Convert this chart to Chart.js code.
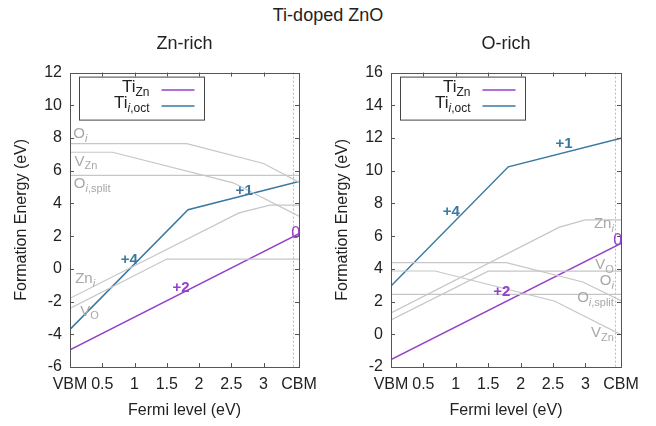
<!DOCTYPE html>
<html>
<head>
<meta charset="utf-8">
<script src="https://cdn.jsdelivr.net/npm/chart.js@4.4.0/dist/chart.umd.min.js"></script>
<style>
  body { margin: 0; background: #fff; font-family: "Liberation Sans", Arial, sans-serif; }
  #wrap { position: relative; width: 656px; height: 426px; overflow: hidden; }
  #main-title { position: absolute; left: 0; top: 5px; width: 656px; text-align: center; font-size: 18px; color: #222; }
  .panel { position: absolute; top: 0; height: 426px; }
</style>
</head>
<body>
<div id="wrap">
  <div id="main-title">Ti-doped ZnO</div>
  <div class="panel" style="left:0; width:328px"><canvas id="chartZn"></canvas></div>
  <div class="panel" style="left:321px; width:335px"><canvas id="chartO"></canvas></div>
</div>
<script>
// x axis (Fermi level, eV)
const xMax = 3.55;
const cbm = 3.46;
const xTickValues = [0, 0.5, 1, 1.5, 2, 2.5, 3, 3.55];
const xTickLabels = ['VBM', '0.5', '1', '1.5', '2', '2.5', '3', 'CBM'];

// Zn-rich series (x = Fermi level, y = formation energy)
const znTiZnX = [0, 3.55];
const znTiZnY = [-4.95, 2.15];
const znTiIX = [0, 1.83, 3.55];
const znTiIY = [-3.7, 3.62, 5.34];
const znOiX = [0, 1.81, 3.0, 3.55];
const znOiY = [7.66, 7.66, 6.44, 5.3];
const znVZnX = [0, 0.66, 2.53, 3.55];
const znVZnY = [7.13, 7.13, 5.26, 3.22];
const znOsplitX = [0, 3.55];
const znOsplitY = [5.72, 5.72];
const znZniX = [0, 2.62, 3.1, 3.55];
const znZniY = [-1.8, 3.42, 3.9, 3.9];
const znVOX = [0, 1.5, 3.55];
const znVOY = [-2.42, 0.6, 0.6];

// O-rich series
const oTiZnX = [0, 3.55];
const oTiZnY = [-1.55, 5.55];
const oTiIX = [0, 1.81, 3.55];
const oTiIY = [2.95, 10.24, 11.98];
const oOiX = [0, 1.78, 2.96, 3.55];
const oOiY = [4.38, 4.38, 3.2, 2.05];
const oVZnX = [0, 0.68, 2.53, 3.55];
const oVZnY = [3.87, 3.87, 2.02, -0.02];
const oOsplitX = [0, 3.55];
const oOsplitY = [2.44, 2.44];
const oZniX = [0, 2.6, 3.0, 3.55];
const oZniY = [1.3, 6.55, 7.0, 7.0];
const oVOX = [0, 1.5, 3.55];
const oVOY = [0.88, 3.86, 3.86];

const PURPLE = '#9440c8';
const BLUE = '#3a78a0';
const GRAY = '#c6c6c6';
const GRAY_TXT = '#a8a8a8';
const FONT = '"Liberation Sans", Arial, sans-serif';

const pts = (xs, ys) => xs.map((x, i) => ({ x: x, y: ys[i] }));

// text annotations: parts = [text, flags] with s = subscript, i = italic, b = bold
const znNotes = [
  { x: 0.05, y: 8.25, parts: [['O'], ['i', 'si']], color: GRAY_TXT, align: 'left', size: 15 },
  { x: 0.07, y: 6.56, parts: [['V'], ['Zn', 's']], color: GRAY_TXT, align: 'left', size: 15 },
  { x: 0.06, y: 5.2, parts: [['O'], ['i', 'si'], [',split', 's']], color: GRAY_TXT, align: 'left', size: 15 },
  { x: 0.08, y: -0.62, parts: [['Zn'], ['i', 'si']], color: GRAY_TXT, align: 'left', size: 15 },
  { x: 0.16, y: -2.6, parts: [['V'], ['O', 's']], color: GRAY_TXT, align: 'left', size: 15 },
  { x: 0.92, y: 0.55, parts: [['+4', 'b']], color: BLUE, align: 'center', size: 15 },
  { x: 2.7, y: 4.78, parts: [['+1', 'b']], color: BLUE, align: 'center', size: 15 },
  { x: 1.72, y: -1.16, parts: [['+2', 'b']], color: PURPLE, align: 'center', size: 15 },
  { x: 3.5, y: 2.17, parts: [['0']], color: PURPLE, align: 'center', size: 16 }
];
const oNotes = [
  { x: 3.44, y: 6.75, parts: [['Zn'], ['i', 'si']], color: GRAY_TXT, align: 'right', size: 15 },
  { x: 3.44, y: 4.24, parts: [['V'], ['O', 's']], color: GRAY_TXT, align: 'right', size: 15 },
  { x: 3.44, y: 3.26, parts: [['O'], ['i', 'si']], color: GRAY_TXT, align: 'right', size: 15 },
  { x: 3.44, y: 2.22, parts: [['O'], ['i', 'si'], [',split', 's']], color: GRAY_TXT, align: 'right', size: 15 },
  { x: 3.44, y: 0.07, parts: [['V'], ['Zn', 's']], color: GRAY_TXT, align: 'right', size: 15 },
  { x: 0.93, y: 7.49, parts: [['+4', 'b']], color: BLUE, align: 'center', size: 15 },
  { x: 2.67, y: 11.66, parts: [['+1', 'b']], color: BLUE, align: 'center', size: 15 },
  { x: 1.71, y: 2.58, parts: [['+2', 'b']], color: PURPLE, align: 'center', size: 15 },
  { x: 3.5, y: 5.71, parts: [['0']], color: PURPLE, align: 'center', size: 16 }
];

function drawRich(ctx, parts, x, y, align, size, color) {
  const items = parts.map(([t, f = '']) => {
    const sub = f.includes('s');
    const fs = sub ? Math.round(size * 0.72) : size;
    const font = (f.includes('i') ? 'italic ' : '') + (f.includes('b') ? 'bold ' : '') + fs + 'px ' + FONT;
    ctx.font = font;
    return { t, font, w: ctx.measureText(t).width, dy: sub ? size * 0.32 : 0 };
  });
  const total = items.reduce((a, m) => a + m.w, 0);
  let cx = align === 'right' ? x - total : align === 'center' ? x - total / 2 : x;
  ctx.fillStyle = color;
  ctx.textBaseline = 'middle';
  ctx.textAlign = 'left';
  items.forEach(m => { ctx.font = m.font; ctx.fillText(m.t, cx, y + m.dy); cx += m.w; });
}

const decor = {
  id: 'decor',
  beforeDatasetsDraw(chart) {
    const { ctx, chartArea: a, scales: { x } } = chart;
    const px = Math.round(x.getPixelForValue(cbm)) + 0.5;
    ctx.save();
    ctx.strokeStyle = '#bbbbbb';
    ctx.lineWidth = 1;
    ctx.setLineDash([2, 2]);
    ctx.beginPath(); ctx.moveTo(px, a.top); ctx.lineTo(px, a.bottom); ctx.stroke();
    ctx.restore();
  },
  afterDatasetsDraw(chart, args, opts) {
    const { ctx, chartArea: a, scales: { x, y } } = chart;
    ctx.save();
    // frame with inward ticks
    ctx.strokeStyle = '#555';
    ctx.lineWidth = 1;
    ctx.strokeRect(Math.round(a.left) + 0.5, Math.round(a.top) + 0.5, Math.round(a.right - a.left), Math.round(a.bottom - a.top));
    ctx.beginPath();
    xTickValues.filter(v => v > 0 && v < 3.2).forEach(v => {
      const p = Math.round(x.getPixelForValue(v)) + 0.5;
      ctx.moveTo(p, a.bottom); ctx.lineTo(p, a.bottom - 4);
      ctx.moveTo(p, a.top); ctx.lineTo(p, a.top + 4);
    });
    y.ticks.forEach(t => {
      if (t.value <= y.min || t.value >= y.max) return;
      const p = Math.round(y.getPixelForValue(t.value)) + 0.5;
      ctx.moveTo(a.left, p); ctx.lineTo(a.left + 4, p);
      ctx.moveTo(a.right, p); ctx.lineTo(a.right - 4, p);
    });
    ctx.stroke();

    // curve labels
    opts.notes.forEach(n => {
      drawRich(ctx, n.parts, x.getPixelForValue(n.x), y.getPixelForValue(n.y), n.align, n.size, n.color);
    });

    // legend box
    const bx = a.left + 9.5, by = a.top + 4.5, bw = 125, bh = 43;
    ctx.strokeStyle = '#444';
    ctx.strokeRect(bx, by, bw, bh);
    const rows = [
      { parts: [['Ti'], ['Zn', 's']], color: PURPLE },
      { parts: [['Ti'], ['i', 'si'], [',oct', 's']], color: BLUE }
    ];
    rows.forEach((r, i) => {
      const ry = by + 10 + i * 16;
      drawRich(ctx, r.parts, bx + 70, ry, 'right', 17, '#222');
      ctx.strokeStyle = r.color;
      ctx.lineWidth = 1.5;
      ctx.beginPath(); ctx.moveTo(bx + 82, ry + 3); ctx.lineTo(bx + 115, ry + 3); ctx.stroke();
    });
    ctx.restore();
  }
};

function makeChart(id, title, yMin, yMax, padRight, series, notes) {
  const datasets = series.map(s => ({
    data: pts(s.x, s.y),
    borderColor: s.color,
    borderWidth: s.width,
    pointRadius: 0,
    fill: false,
    tension: 0
  }));
  return new Chart(document.getElementById(id), {
    type: 'line',
    data: { datasets },
    plugins: [decor],
    options: {
      responsive: true,
      maintainAspectRatio: false,
      animation: false,
      layout: { padding: { top: 27, right: padRight, bottom: 4, left: 0 } },
      plugins: {
        legend: { display: false },
        tooltip: { enabled: false },
        title: {
          display: true, text: title, fullSize: false, color: '#222',
          font: { size: 18, family: FONT, weight: 'normal' },
          padding: { top: 6, bottom: 18 }
        },
        decor: { notes }
      },
      scales: {
        x: {
          type: 'linear', min: 0, max: xMax,
          afterBuildTicks: s => { s.ticks = xTickValues.map(v => ({ value: v })); },
          afterFit: s => { s.height = 55; s.paddingLeft = 0; s.paddingRight = 0; },
          grid: { display: false, drawTicks: false },
          border: { display: false },
          ticks: {
            autoSkip: false, maxRotation: 0, padding: 8, color: '#222',
            font: { size: 16, family: FONT },
            callback: (v, i) => xTickLabels[i]
          },
          title: { display: true, text: 'Fermi level (eV)', color: '#222', font: { size: 16, family: FONT }, padding: { top: 0, bottom: 2 } }
        },
        y: {
          min: yMin, max: yMax,
          afterFit: s => { s.width = 70; s.paddingTop = 0; s.paddingBottom = 0; },
          grid: { display: false, drawTicks: false },
          border: { display: false },
          ticks: { stepSize: 2, padding: 8, color: '#222', font: { size: 16, family: FONT } },
          title: { display: true, text: 'Formation Energy (eV)', color: '#222', font: { size: 16, family: FONT }, padding: { top: 12, bottom: 0 } }
        }
      }
    }
  });
}

makeChart('chartZn', 'Zn-rich', -6, 12, 29, [
  { x: znOiX, y: znOiY, color: GRAY, width: 1.2 },
  { x: znVZnX, y: znVZnY, color: GRAY, width: 1.2 },
  { x: znOsplitX, y: znOsplitY, color: GRAY, width: 1.2 },
  { x: znZniX, y: znZniY, color: GRAY, width: 1.2 },
  { x: znVOX, y: znVOY, color: GRAY, width: 1.2 },
  { x: znTiZnX, y: znTiZnY, color: PURPLE, width: 1.5 },
  { x: znTiIX, y: znTiIY, color: BLUE, width: 1.5 }
], znNotes);

makeChart('chartO', 'O-rich', -2, 16, 35, [
  { x: oOiX, y: oOiY, color: GRAY, width: 1.2 },
  { x: oVZnX, y: oVZnY, color: GRAY, width: 1.2 },
  { x: oOsplitX, y: oOsplitY, color: GRAY, width: 1.2 },
  { x: oZniX, y: oZniY, color: GRAY, width: 1.2 },
  { x: oVOX, y: oVOY, color: GRAY, width: 1.2 },
  { x: oTiZnX, y: oTiZnY, color: PURPLE, width: 1.5 },
  { x: oTiIX, y: oTiIY, color: BLUE, width: 1.5 }
], oNotes);
</script>
</body>
</html>
